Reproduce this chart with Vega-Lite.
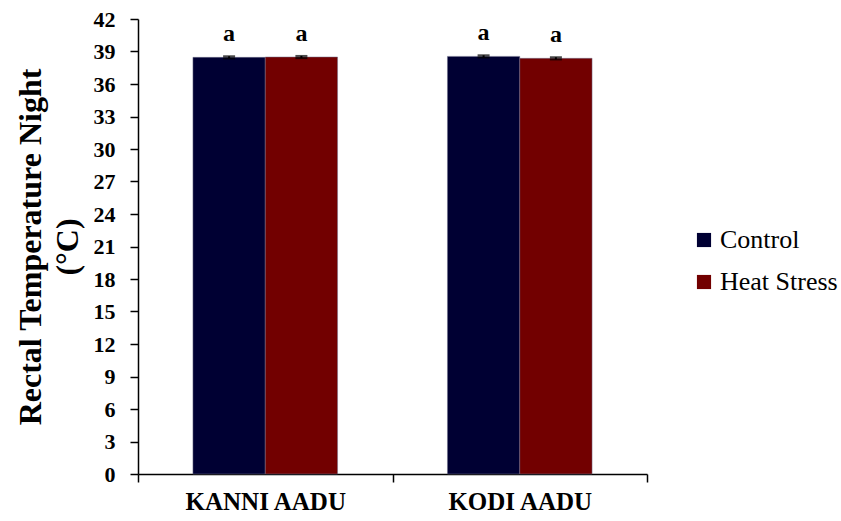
{
  "$schema": "https://vega.github.io/schema/vega-lite/v6.json",
  "width": 509,
  "height": 455,
  "autosize": {"type": "none"},
  "padding": {"left": 138, "top": 19, "right": 194, "bottom": 47},
  "background": "white",
  "config": {
    "view": {"stroke": null},
    "font": "'Liberation Serif', 'Times New Roman', serif",
    "axis": {"labelColor": "black", "titleColor": "black", "domainColor": "black", "tickColor": "black", "grid": false},
    "legend": {"labelFont": "'Liberation Serif', 'Times New Roman', serif"}
  },
  "data": {
    "values": [
      {"breed": "KANNI AADU", "treatment": "Control", "mean": 38.46, "se": 0.1, "sig": "a"},
      {"breed": "KANNI AADU", "treatment": "Heat Stress", "mean": 38.49, "se": 0.1, "sig": "a"},
      {"breed": "KODI AADU", "treatment": "Control", "mean": 38.55, "se": 0.1, "sig": "a"},
      {"breed": "KODI AADU", "treatment": "Heat Stress", "mean": 38.37, "se": 0.1, "sig": "a"}
    ]
  },
  "encoding": {
    "x": {
      "field": "breed",
      "type": "nominal",
      "sort": ["KANNI AADU", "KODI AADU"],
      "scale": {"paddingInner": 0, "paddingOuter": 0},
      "axis": {
        "title": null,
        "labelAngle": 0,
        "labelFont": "'Liberation Serif', 'Times New Roman', serif",
        "labelFontSize": 25,
        "labelFontWeight": "bold",
        "labelPadding": 7,
        "tickSize": 8,
        "tickWidth": 1.5,
        "domainWidth": 1.5,
        "tickBand": "extent"
      }
    },
    "xOffset": {
      "field": "treatment",
      "type": "nominal",
      "sort": ["Control", "Heat Stress"],
      "scale": {"paddingInner": 0, "paddingOuter": 0.76}
    },
    "y": {
      "field": "mean",
      "type": "quantitative",
      "scale": {"domain": [0, 42], "nice": false},
      "axis": {
        "values": [0, 3, 6, 9, 12, 15, 18, 21, 24, 27, 30, 33, 36, 39, 42],
        "labelOverlap": false,
        "title": ["Rectal Temperature Night", "(°C)"],
        "titleFont": "'Liberation Serif', 'Times New Roman', serif",
        "titleFontSize": 32,
        "titleFontWeight": "bold",
        "titleLineHeight": 37,
        "titleX": -108,
        "titleBaseline": "middle",
        "labelFont": "'Liberation Serif', 'Times New Roman', serif",
        "labelFontSize": 22,
        "labelFontWeight": "bold",
        "labelPadding": 15,
        "tickSize": 8,
        "tickWidth": 1.5,
        "domainWidth": 1.5
      }
    }
  },
  "layer": [
    {
      "mark": {"type": "bar", "stroke": "#6f6f8a", "strokeWidth": 0.5},
      "encoding": {
        "color": {
          "field": "treatment",
          "type": "nominal",
          "sort": ["Control", "Heat Stress"],
          "scale": {"domain": ["Control", "Heat Stress"], "range": ["#000033", "#720000"]},
          "legend": {
            "title": null,
            "orient": "none",
            "legendX": 553,
            "legendY": 208,
            "symbolType": "square",
            "symbolSize": 200,
            "symbolStrokeWidth": 0,
            "labelFont": "'Liberation Serif', 'Times New Roman', serif",
            "labelFontSize": 26,
            "labelColor": "black",
            "labelOffset": 3,
            "rowPadding": 16
          }
        }
      }
    },
    {
      "mark": {"type": "errorbar", "color": "black", "thickness": 2, "ticks": {"size": 12, "thickness": 2, "color": "black"}},
      "encoding": {
        "yError": {"field": "se"}
      }
    },
    {
      "mark": {"type": "text", "font": "'Liberation Serif', 'Times New Roman', serif", "fontSize": 24, "fontWeight": "bold", "color": "black", "baseline": "alphabetic", "dy": -16},
      "encoding": {
        "text": {"field": "sig"}
      }
    }
  ]
}
